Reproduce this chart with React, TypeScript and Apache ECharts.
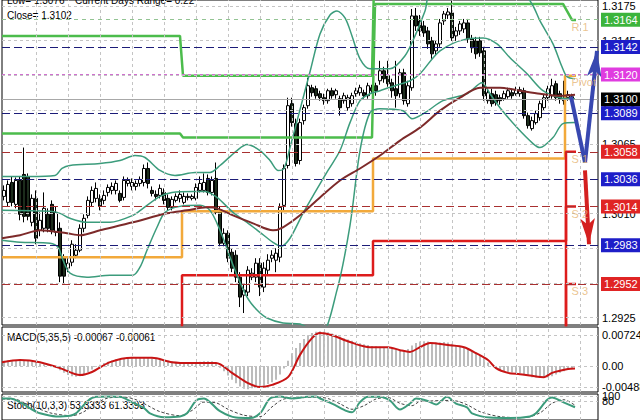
import React, { useEffect, useRef } from 'react';
import * as echarts from 'echarts';

const SLOT_COUNT = 149;
const slots = Array.from({ length: SLOT_COUNT }, (_, i) => String(i));

// [open, close, low, high]
const ohlc = [
  [1.30222, 1.3027, 1.3019, 1.3031], [1.30174, 1.30318, 1.30142, 1.3035], [1.30334, 1.30174, 1.30142, 1.30382],
  [1.30158, 1.3035, 1.30126, 1.30374], [1.3035, 1.30078, 1.3003, 1.30382], [1.30398, 1.30062, 1.30014, 1.30614],
  [1.30382, 1.30062, 1.3003, 1.30406], [1.30014, 1.30206, 1.29982, 1.30238], [1.30206, 1.29886, 1.29838, 1.3027],
  [1.2995, 1.3003, 1.29902, 1.30094], [1.29966, 1.30126, 1.29934, 1.30254], [1.30078, 1.29966, 1.29934, 1.30126],
  [1.30158, 1.2995, 1.29918, 1.3019], [1.29934, 1.30094, 1.29902, 1.30142], [1.29966, 1.29582, 1.29534, 1.30014],
  [1.29726, 1.29582, 1.29518, 1.29758], [1.29646, 1.29686, 1.29614, 1.29726], [1.29694, 1.29838, 1.29662, 1.2987],
  [1.2975, 1.2979, 1.29726, 1.29838], [1.2979, 1.29966, 1.29774, 1.29998], [1.29966, 1.30046, 1.29934, 1.30078],
  [1.3007, 1.3019, 1.30046, 1.30222], [1.30174, 1.3027, 1.30142, 1.30302], [1.30206, 1.30286, 1.30174, 1.30334],
  [1.30206, 1.30142, 1.3011, 1.30238], [1.3019, 1.3023, 1.30158, 1.3027], [1.30254, 1.30294, 1.30222, 1.30318],
  [1.3027, 1.30302, 1.30238, 1.30334], [1.3027, 1.30326, 1.30238, 1.3035], [1.30246, 1.3019, 1.30174, 1.3027],
  [1.30214, 1.3035, 1.3019, 1.30382], [1.30326, 1.3035, 1.30302, 1.30374], [1.30302, 1.30334, 1.3027, 1.30366],
  [1.30302, 1.30326, 1.3027, 1.3035], [1.30326, 1.30358, 1.30302, 1.30382], [1.30334, 1.30446, 1.30302, 1.30478],
  [1.30446, 1.30326, 1.30286, 1.30494], [1.3027, 1.30246, 1.30222, 1.30302], [1.30238, 1.30222, 1.3019, 1.3027],
  [1.3023, 1.30286, 1.30206, 1.30318], [1.30254, 1.3019, 1.30158, 1.30286], [1.30206, 1.30134, 1.3011, 1.30238],
  [1.30134, 1.30198, 1.3011, 1.30222], [1.3019, 1.30222, 1.30174, 1.30246], [1.30206, 1.30238, 1.30174, 1.3027],
  [1.30174, 1.30222, 1.30158, 1.30254], [1.30214, 1.30222, 1.3019, 1.30246], [1.30206, 1.30222, 1.3019, 1.30238],
  [1.30206, 1.30294, 1.3019, 1.30326], [1.3027, 1.30326, 1.30254, 1.30382], [1.3027, 1.30334, 1.30254, 1.30406],
  [1.30366, 1.30254, 1.3023, 1.30398], [1.30254, 1.3035, 1.3023, 1.30382], [1.30366, 1.30094, 1.30078, 1.30494],
  [1.3011, 1.29846, 1.29822, 1.30142], [1.29846, 1.29926, 1.29822, 1.29966], [1.29926, 1.29726, 1.29694, 1.2995],
  [1.29774, 1.29646, 1.29614, 1.29806], [1.2975, 1.29574, 1.29534, 1.2979], [1.29574, 1.29414, 1.29334, 1.29614],
  [1.2943, 1.2947, 1.29286, 1.29518], [1.29454, 1.2963, 1.29422, 1.29662], [1.29574, 1.29606, 1.2955, 1.29646],
  [1.29574, 1.29686, 1.29534, 1.29726], [1.29686, 1.29494, 1.29422, 1.29726], [1.29494, 1.29646, 1.29454, 1.29694],
  [1.2963, 1.2971, 1.29598, 1.29758], [1.29726, 1.2975, 1.29694, 1.2979], [1.2971, 1.29766, 1.29614, 1.29806],
  [1.29734, 1.30134, 1.29694, 1.30166], [1.3015, 1.30446, 1.3011, 1.30478], [1.3047, 1.3095, 1.30446, 1.31014],
  [1.30966, 1.30814, 1.30782, 1.31014], [1.30806, 1.30486, 1.30462, 1.30846], [1.3051, 1.30814, 1.30478, 1.30846],
  [1.3083, 1.30934, 1.30798, 1.30958], [1.3095, 1.3111, 1.30926, 1.31174], [1.31094, 1.31054, 1.31022, 1.31118],
  [1.31086, 1.3103, 1.31006, 1.3111], [1.31046, 1.31014, 1.3099, 1.3107], [1.31014, 1.3099, 1.30958, 1.31046],
  [1.3099, 1.3107, 1.30966, 1.31086], [1.3107, 1.3103, 1.31006, 1.31094], [1.31038, 1.3107, 1.31006, 1.31086],
  [1.31006, 1.30934, 1.3087, 1.3103], [1.3099, 1.3103, 1.30966, 1.31054], [1.30934, 1.31014, 1.3091, 1.31038],
  [1.30966, 1.3103, 1.30942, 1.31054], [1.31046, 1.3107, 1.31022, 1.31094], [1.31054, 1.31094, 1.3103, 1.31118],
  [1.31054, 1.3103, 1.31006, 1.31078], [1.3103, 1.3111, 1.31006, 1.31134], [1.31094, 1.3107, 1.31046, 1.31118],
  [1.3111, 1.3107, 1.3103, 1.31134], [1.3115, 1.3123, 1.31118, 1.3131], [1.3123, 1.31166, 1.31134, 1.31262],
  [1.3119, 1.31126, 1.31102, 1.3131], [1.31134, 1.3107, 1.31014, 1.31166], [1.31086, 1.3103, 1.30934, 1.3131],
  [1.31046, 1.31214, 1.31014, 1.31246], [1.31214, 1.3099, 1.30958, 1.31246], [1.30966, 1.3111, 1.30942, 1.3115],
  [1.31094, 1.3167, 1.3107, 1.31726], [1.3167, 1.3159, 1.3155, 1.31734], [1.3163, 1.3155, 1.3151, 1.31678],
  [1.3159, 1.31534, 1.31502, 1.3163], [1.3155, 1.31446, 1.31406, 1.31582], [1.3147, 1.31366, 1.31326, 1.31502],
  [1.3139, 1.31446, 1.31358, 1.3147], [1.31446, 1.31614, 1.31422, 1.31646], [1.3163, 1.31686, 1.31598, 1.3171],
  [1.31678, 1.31702, 1.31646, 1.31734], [1.31694, 1.31494, 1.3147, 1.3179], [1.3151, 1.3155, 1.3147, 1.31582],
  [1.3155, 1.31606, 1.31518, 1.3163], [1.31566, 1.31614, 1.31534, 1.31646], [1.31614, 1.31486, 1.31454, 1.31646],
  [1.31486, 1.31414, 1.31374, 1.31518], [1.3147, 1.31366, 1.31326, 1.31502], [1.3147, 1.31374, 1.31342, 1.31502],
  [1.3139, 1.3103, 1.3099, 1.31422], [1.3099, 1.31054, 1.30966, 1.31086], [1.31046, 1.30966, 1.30942, 1.31086],
  [1.31038, 1.30974, 1.3095, 1.3107], [1.31014, 1.3099, 1.30958, 1.31038], [1.31006, 1.31046, 1.3099, 1.3107],
  [1.31022, 1.3107, 1.31006, 1.31094], [1.31054, 1.3103, 1.31006, 1.31086], [1.31046, 1.31078, 1.3103, 1.31102],
  [1.31046, 1.31078, 1.31022, 1.31102], [1.3107, 1.3087, 1.30846, 1.31094], [1.3087, 1.3079, 1.30766, 1.30894],
  [1.30766, 1.3083, 1.3075, 1.30862], [1.30814, 1.30886, 1.30798, 1.3091], [1.30854, 1.30966, 1.3083, 1.3099],
  [1.30934, 1.31014, 1.3091, 1.31038], [1.31014, 1.31086, 1.3099, 1.3111], [1.3103, 1.3111, 1.31006, 1.31166],
  [1.31126, 1.31014, 1.3099, 1.3115], [1.31046, 1.31006, 1.30966, 1.3107], [1.31006, 1.3099, 1.30958, 1.3115],
  [1.31014, 1.31038, 1.3099, 1.3107], [1.30998, 1.31022, 1.30982, 1.31046],
];

// moving average and Bollinger bands, read as [bar, price]
const maLine = [
  [-0.5, 1.29886], [4, 1.2991], [9, 1.2995], [15.75, 1.29926], [19, 1.2991], [24, 1.2995], [32.25, 1.30014],
  [40.75, 1.30086], [45.75, 1.3011], [50.75, 1.30134], [53.25, 1.30126], [57.25, 1.3007], [62.25, 1.30006],
  [67.25, 1.2995], [69.75, 1.29974], [74, 1.3007], [79, 1.30214], [84, 1.3035], [89, 1.30446], [94, 1.3055],
  [99, 1.3067], [104, 1.30774], [109, 1.3091], [114, 1.31014], [119, 1.31094], [124, 1.31094], [129, 1.3107],
  [134, 1.31046], [139, 1.3103], [142.75, 1.31038],
];
const bbUpper = [
  [-0.5, 1.30382], [6.5, 1.30382], [12.75, 1.3039], [14.5, 1.30446], [16.5, 1.3047], [24, 1.30486], [29, 1.3051],
  [32.75, 1.3055], [35.25, 1.30534], [39, 1.3043], [42.75, 1.3039], [47.75, 1.30414], [51.5, 1.30414], [54, 1.3047],
  [58.25, 1.3059], [60.75, 1.30638], [64, 1.3059], [66.5, 1.3051], [68.5, 1.3043], [70, 1.30446], [71.5, 1.30614],
  [74, 1.30918], [76.5, 1.31222], [79, 1.31526], [81.5, 1.31678], [83.25, 1.3171], [85.25, 1.31654], [87, 1.3151],
  [89, 1.31326], [91.5, 1.31246], [96.5, 1.31246], [100.25, 1.3135], [102.75, 1.3151], [105.25, 1.3171],
  [107, 1.3187], [129, 1.3187], [132, 1.31766], [134, 1.3163], [137.25, 1.31446], [139.5, 1.31262],
  [140.75, 1.31182], [142.75, 1.31166],
];
const bbMiddle = [
  [-0.5, 1.3011], [11.5, 1.30102], [14, 1.30086], [16.5, 1.30046], [20.75, 1.30014], [26.5, 1.30014],
  [32.25, 1.3007], [34.75, 1.30126], [39, 1.30222], [42, 1.30254], [47.25, 1.30262], [50.25, 1.30262],
  [53.25, 1.30214], [57.25, 1.30094], [60.75, 1.30014], [64, 1.29934], [67.25, 1.29854], [69.25, 1.29822],
  [71.5, 1.29886], [74.75, 1.30086], [77.75, 1.30254], [81, 1.3043], [84, 1.3059], [86.5, 1.30814], [89, 1.3099],
  [91.5, 1.31046], [94, 1.3107], [97.75, 1.3111], [101.5, 1.3115], [104, 1.31206], [109, 1.3139],
  [115.75, 1.31486], [119.75, 1.31494], [123.25, 1.31446], [126.5, 1.31334], [130.75, 1.31206],
  [134.75, 1.3107], [139, 1.31014], [142.75, 1.31006],
];
const bbLower = [
  [-0.5, 1.2987], [4, 1.29854], [11.5, 1.29846], [13.5, 1.29814], [14.75, 1.2971], [16.5, 1.29606],
  [20.75, 1.29574], [26.5, 1.2959], [32.25, 1.2959], [34, 1.29654], [35.75, 1.2979], [38.25, 1.29974],
  [40.25, 1.30094], [44, 1.30142], [49, 1.3015], [51.5, 1.3011], [54, 1.2995], [57.75, 1.2963], [60.75, 1.29414],
  [63.25, 1.2931], [65.75, 1.29246], [69.75, 1.29206], [74, 1.29198], [79, 1.2911], [83.25, 1.2947],
  [86.5, 1.2999], [89, 1.3059], [91.5, 1.30894], [94, 1.30926], [99.75, 1.3091], [102, 1.30846],
  [105.25, 1.30894], [109.75, 1.3099], [115.75, 1.31046], [119.5, 1.31134], [121.5, 1.31046], [124, 1.30934],
  [128.25, 1.30774], [132.25, 1.30646], [134, 1.30614], [137.25, 1.30694], [139.75, 1.30806], [142.75, 1.30814],
];

// daily pivot lines [bar, price]
const r2Line = [[-0.5, 1.3151], [44, 1.3151], [44.75, 1.3119], [92, 1.3119], [92.75, 1.323], [143, 1.323]];
const r1Line = [[-0.5, 1.30726], [44, 1.30726], [44.75, 1.30694], [92, 1.30694], [92.75, 1.31766], [139.75, 1.31766], [142, 1.31638], [143, 1.31638]];
const pivotLine = [[-0.5, 1.29734], [44.5, 1.29734], [44.5, 1.30102], [92.25, 1.30102], [92.25, 1.30526], [140.25, 1.30526], [140.25, 1.3119], [143, 1.3119]];
const s1Line = [[-0.5, 1.285], [44.5, 1.285], [44.5, 1.2959], [92.25, 1.2959], [92.25, 1.29865], [140.5, 1.29865], [140.5, 1.3058], [143, 1.3058]];
const s2Line = [[-0.5, 1.285], [140.5, 1.285], [140.5, 1.3014], [143, 1.3014]];
const s3Line = [[-0.5, 1.285], [140.5, 1.285], [140.5, 1.2952], [143, 1.2952]];
const pivotNames = ['R 1', 'Pivot', 'S 1', 'S 2', 'S 3'];
const pivotNameLevels = [1.3164, 1.312, 1.3058, 1.3014, 1.2952];
const todayStart = 141.5;

// horizontal levels with right-hand price boxes
const levelValues = [1.3164, 1.3142, 1.312, 1.31, 1.3089, 1.3058, 1.3036, 1.3014, 1.2983, 1.2952];
const levelKinds = ['res', 'navy', 'pivot', 'price', 'navy', 'sup', 'navy', 'sup', 'navy', 'sup'];
const priceTicks = [1.3175, 1.31472, 1.31194, 1.30917, 1.30639, 1.30361, 1.30083, 1.29806, 1.29528, 1.2925];
const priceTickLabels = ['1.3175', '1.3145', '1.3120', '1.3090', '1.3065', '1.3035', '1.3010', '1.2980', '1.2955', '1.2925'];

// forecast arrows [bar, price]
const blueForecast = [[141.75, 1.31022], [145.25, 1.30494], [148.25, 1.3139]];
const redForecast = [[145.25, 1.3043], [146.25, 1.29838]];

// MACD(5,35,5)
const macdHist = [
  0.0012, 0.0013, 0.0014, 0.0014, 0.0013, 0.0012, 0.0012, 0.001, 0.0009, 0.0006, 0.0004, 0.0002, 0.0, -0.0004,
  -0.001, -0.0016, -0.0021, -0.0024, -0.0025, -0.0024, -0.002, -0.0014, -0.0008, -0.0002,
  0.0003, 0.0007, 0.001, 0.0013, 0.0015, 0.0016, 0.0018, 0.0018, 0.0019, 0.0019, 0.002, 0.002, 0.0019, 0.0018, 0.0017, 0.0016, 0.0014, 0.0012, 0.0011,
  0.0009, 0.0008, 0.0008, 0.0008, 0.0008, 0.0009, 0.001, 0.0011, 0.0011, 0.0011, 0.0008,
  -0.0004, -0.0012, -0.0022, -0.0032, -0.004, -0.0048, -0.0053, -0.0054, -0.0052, -0.005, -0.0048, -0.0046, -0.0042, -0.0038, -0.0032, -0.002, -0.0006,
  0.0012, 0.003, 0.0042, 0.0054, 0.0063, 0.0072, 0.0077, 0.008, 0.0081, 0.008, 0.0079,
  0.0076, 0.0073, 0.0069, 0.0065, 0.0062, 0.0059, 0.0056, 0.0053, 0.0051, 0.0049, 0.0047, 0.0046, 0.0045, 0.0044, 0.0043, 0.0041, 0.0039, 0.0038, 0.0036,
  0.004, 0.0048, 0.0054, 0.0057, 0.0058, 0.0057, 0.0055, 0.0055, 0.0055, 0.0056, 0.0055, 0.0052, 0.0048, 0.0045, 0.0042, 0.0039, 0.0035, 0.0031, 0.0026, 0.0018, 0.0008, 0.0,
  -0.0007, -0.0011, -0.0013, -0.0014, -0.0015, -0.0016, -0.0017, -0.0019, -0.0023, -0.0026, -0.0027, -0.0028, -0.0028, -0.0027, -0.0024, -0.002, -0.0016, -0.0012, -0.0009, -0.0007,
];
const macdSignal = [
  [-0.5, 0.0009], [4, 0.0014], [9, 0.0009], [14, -0.0005], [19, -0.0021], [22, -0.0014], [26.5, 0.0009], [32, 0.0019],
  [37, 0.0019], [42, 0.0009], [47, 0.0007], [53, 0.0007], [57, -0.0016], [61, -0.004], [64, -0.0049], [67, -0.0044],
  [71, -0.0026], [74, 0.0026], [77, 0.0065], [79, 0.0077], [82, 0.0072], [86.5, 0.0056], [91.5, 0.0044], [96, 0.0044],
  [99, 0.0037], [101.5, 0.0033], [104, 0.0044], [106.5, 0.0054], [111, 0.0049], [115, 0.0044], [118, 0.003],
  [121, 0.0014], [123, -0.0005], [126, -0.0016], [129, -0.0019], [132, -0.0023], [135, -0.0026], [137, -0.0016],
  [141, -0.0007], [142.75, -0.0006],
];
const macdTicks = [0.00724, 0, -0.00488];
const macdTickLabels = ['0.00724', '0.00', '-0.00488'];

// Stochastic(10,3,3)
const stochMain = [
  [-0.5, 90], [1.5, 90], [4, 75], [7, 44], [9, 28], [13, 15], [16.5, 18], [18, 28], [21, 81], [23, 97], [26.5, 98],
  [29, 97], [32, 75], [35, 50], [36.5, 28], [40, 12], [44, 15], [45.75, 28], [48, 81], [50, 90], [51.5, 75], [54, 37],
  [58, 10], [61.5, 8], [64, 28], [66.5, 90], [69, 98], [72, 90], [75.75, 97], [78, 98], [79, 90], [82, 69], [85.75, 37],
  [87, 32], [89, 75], [91, 97], [94, 97], [96.5, 81], [99, 44], [101.5, 69], [103, 90], [105.75, 81], [108, 65],
  [110.75, 97], [113, 69], [115.75, 53], [117, 28], [121.5, 10], [126.5, 8], [131.5, 15], [133, 28], [135.75, 84],
  [137, 94], [139.75, 75], [142.75, 53.3333],
];
const stochSignal = [
  [-0.5, 88], [3, 86], [6, 65], [9, 45], [12, 28], [17, 18], [20, 35], [23, 70], [26, 92], [30, 96], [33, 85], [36, 60],
  [39, 35], [44, 18], [47, 40], [50, 75], [53, 72], [56, 45], [60, 20], [64, 14], [67, 55], [70, 88], [74, 93], [78, 96],
  [81, 90], [84, 68], [87, 45], [90, 60], [93, 88], [96, 94], [99, 70], [102, 60], [104, 78], [107, 80], [110, 82],
  [113, 80], [116, 62], [119, 35], [124, 14], [130, 10], [134, 30], [137, 70], [140, 85], [142.75, 61.3393],
];
const stochTicks = [100, 80];
const stochTickLabels = ['100', '80'];

const FONT = 'Liberation Sans';

const levelStyle: Record<string, any> = {
  res: { box: '#3cb43c', line: '#93c493', type: [4, 4] },
  navy: { box: '#1e1ec8', line: '#1c1c78', type: [8, 4] },
  pivot: { box: '#e03ce0', line: '#d070d0', type: [3, 3] },
  price: { box: '#000000', line: '#a8a8a8', type: 'solid' },
  sup: { box: '#e02424', line: '#a83030', type: [8, 4] },
};

const gridLineStyle = { color: '#c4c4c4', type: [3, 3] as any, width: 1 };
const verticalGrid = () =>
  Array.from({ length: 18 }, (_, k) => ({ xAxis: 8 * (k + 1), label: { show: false }, lineStyle: gridLineStyle }));

export default function App() {
  const ref = useRef<HTMLDivElement>(null);
  useEffect(() => {
    if (!ref.current) return;
    const chart = echarts.init(ref.current, undefined, { renderer: 'svg' });
    const xCat = (g: number) => ({ type: 'category', gridIndex: g, data: slots, show: false, boundaryGap: true });
    const xVal = (g: number) => ({ type: 'value', gridIndex: g, min: -0.5, max: SLOT_COUNT - 0.5, show: false });
    const tickLabel = { show: true, position: 'end', color: '#000', fontSize: 11, fontFamily: FONT, distance: 4 };
    const lineS = (data: any, color: string, width: number, extra: any = {}) => ({
      type: 'line', xAxisIndex: 1, yAxisIndex: 0, data, symbol: 'none', smooth: false,
      lineStyle: { color, width }, silent: true, z: 4, ...extra,
    });
    const ml = (data: any[], extra: any = {}) => ({
      silent: true, symbol: ['none', 'none'], animation: false, precision: 8, data, ...extra,
    });
    const option: any = {
      animation: false,
      backgroundColor: '#ffffff',
      grid: [
        { left: 2, width: 596, top: -1, height: 326, show: true, borderColor: '#000', borderWidth: 1, backgroundColor: 'transparent' },
        { left: 2, width: 596, top: 327, height: 65, show: true, borderColor: '#000', borderWidth: 1, backgroundColor: 'transparent' },
        { left: 2, width: 596, top: 394, height: 35, show: true, borderColor: '#000', borderWidth: 1, backgroundColor: 'transparent' },
      ],
      xAxis: [xCat(0), xVal(0), xCat(1), xVal(1), xVal(2)],
      yAxis: [
        { type: 'value', gridIndex: 0, min: 1.2919, max: 1.31798, show: false },
        { type: 'value', gridIndex: 1, min: -0.00607, max: 0.00911, show: false },
        { type: 'value', gridIndex: 2, min: 0, max: 109, show: false },
      ],
      graphic: [
        { type: 'text', left: 7, top: -5, style: { text: 'Low= 1.3076', fill: '#000', fontSize: 10, fontFamily: FONT } },
        { type: 'text', left: 75, top: -5, style: { text: 'Current Days Range= 0.22', fill: '#000', fontSize: 10, fontFamily: FONT } },
        { type: 'text', left: 7, top: 10, style: { text: 'Close= 1.3102', fill: '#000', fontSize: 10, fontFamily: FONT } },
        { type: 'text', left: 7, top: 332, style: { text: 'MACD(5,35,5) -0.00067 -0.00061', fill: '#000', fontSize: 10, fontFamily: FONT } },
        { type: 'text', left: 7, top: 400, style: { text: 'Stoch(10,3,3) 53.3333 61.3393', fill: '#000', fontSize: 10, fontFamily: FONT } },
      ],
      series: [
        // grid lines + price ticks
        {
          type: 'line', xAxisIndex: 1, yAxisIndex: 0, data: [], silent: true, z: 1,
          markLine: ml([
            ...priceTicks.map((v, k) => ({ yAxis: v, label: { ...tickLabel, formatter: priceTickLabels[k] } })),
            ...verticalGrid(),
          ], { lineStyle: gridLineStyle }),
        },
        // level lines + coloured boxes
        {
          type: 'line', xAxisIndex: 1, yAxisIndex: 0, data: [], silent: true, z: 2,
          markLine: ml(levelValues.map((v, k) => {
            const st = levelStyle[levelKinds[k]];
            return {
              yAxis: v,
              lineStyle: { color: st.line, type: st.type, width: 1 },
              label: {
                show: true, position: 'end', distance: 3, formatter: v.toFixed(4), color: '#fff',
                backgroundColor: st.box, padding: [2, 4, 1, 3], fontSize: 11, fontFamily: FONT,
              },
            };
          })),
        },
        {
          type: 'candlestick', xAxisIndex: 0, yAxisIndex: 0, data: ohlc, barWidth: 3, silent: true, z: 3,
          itemStyle: { color: '#ffffff', color0: '#1c2c1c', borderColor: '#000', borderColor0: '#000', borderWidth: 1 },
        },
        lineS(r2Line, '#4cbc4c', 2.5),
        lineS(r1Line, '#4cbc4c', 2.5),
        lineS(pivotLine, '#f2a93b', 2.5),
        lineS(s1Line, '#dd1c1c', 2.5),
        lineS(s2Line, '#dd1c1c', 2.5),
        lineS(s3Line, '#dd1c1c', 2.5),
        lineS(bbUpper, '#3c9c7c', 1.5, { smooth: 0.3 }),
        lineS(bbMiddle, '#3c9c7c', 1.5, { smooth: 0.3 }),
        lineS(bbLower, '#3c9c7c', 1.5, { smooth: 0.3 }),
        lineS(maLine, '#7d2a2a', 2, { smooth: 0.3 }),
        {
          type: 'scatter', xAxisIndex: 1, yAxisIndex: 0, silent: true, z: 5, symbolSize: 1,
          itemStyle: { color: 'transparent' },
          data: pivotNameLevels.map((v, k) => ({ value: [todayStart, v], name: pivotNames[k] })),
          label: { show: true, position: 'right', distance: 1, offset: [0, 7], formatter: '{b}', color: '#e6b574', fontSize: 11, fontFamily: FONT },
        },
        // forecast arrows
        {
          type: 'line', xAxisIndex: 1, yAxisIndex: 0, data: [], silent: true, z: 6,
          markLine: ml([
            [
              { coord: blueForecast[0], lineStyle: { color: '#3848b0', width: 4, type: 'solid' }, label: { show: false } },
              { coord: blueForecast[1] },
            ],
            [
              { coord: blueForecast[1], lineStyle: { color: '#3848b0', width: 4, type: 'solid' }, label: { show: false } },
              { coord: blueForecast[2], symbol: 'arrow', symbolSize: [11, 26] },
            ],
            [
              { coord: redForecast[0], lineStyle: { color: '#d42020', width: 4, type: 'solid' }, label: { show: false } },
              { coord: redForecast[1], symbol: 'arrow', symbolSize: [11, 26] },
            ],
          ]),
        },
        // MACD
        {
          type: 'bar', xAxisIndex: 2, yAxisIndex: 1, data: macdHist, barWidth: 2, silent: true,
          itemStyle: { color: '#bcbcbc' }, z: 2,
        },
        {
          type: 'line', xAxisIndex: 3, yAxisIndex: 1, data: macdSignal, symbol: 'none', smooth: 0.3, silent: true, z: 3,
          lineStyle: { color: '#c81414', width: 2 },
          markLine: ml([
            ...macdTicks.map((v, k) => ({ yAxis: v, label: { ...tickLabel, formatter: macdTickLabels[k] } })),
            ...verticalGrid(),
          ], { lineStyle: gridLineStyle }),
        },
        // Stochastic
        {
          type: 'line', xAxisIndex: 4, yAxisIndex: 2, data: stochMain, symbol: 'none', smooth: 0.3, silent: true, z: 3,
          lineStyle: { color: '#3c9c7c', width: 2 },
          markLine: ml([
            ...stochTicks.map((v, k) => ({ yAxis: v, label: { ...tickLabel, formatter: stochTickLabels[k] } })),
            ...verticalGrid(),
          ], { lineStyle: gridLineStyle }),
        },
        {
          type: 'line', xAxisIndex: 4, yAxisIndex: 2, data: stochSignal, symbol: 'none', smooth: 0.3, silent: true, z: 2,
          lineStyle: { color: '#444', width: 1, type: [3, 2] },
        },
      ],
    };
    chart.setOption(option);
    return () => chart.dispose();
  }, []);
  return <div ref={ref} style={{ position: 'fixed', left: 0, top: 0, width: 640, height: 420, background: '#fff' }} />;
}
